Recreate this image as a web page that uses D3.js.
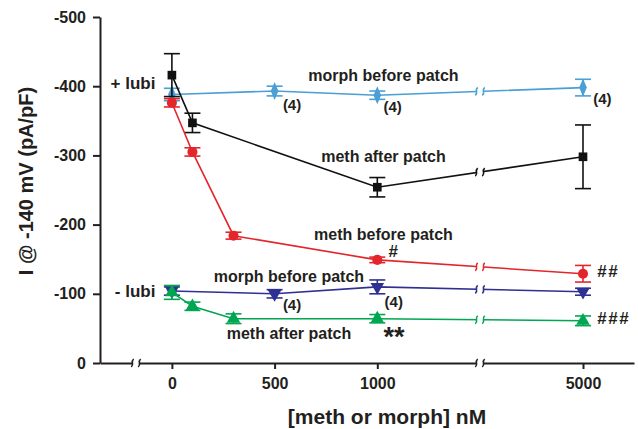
<!DOCTYPE html>
<html>
<head>
<meta charset="utf-8">
<script src="https://cdn.jsdelivr.net/npm/d3@7"></script>
<style>
body { margin: 0; background: #fff; }
text { font-family: "Liberation Sans", Arial, sans-serif; font-weight: bold; fill: #231f20; }
</style>
</head>
<body>
<div class="myChart"></div>
<script>
//Data (x in nM, y in pA/pF)
var morphLubiX = [0, 500, 1000, 5000];
var morphLubiY = [-388, -393, -387, -398];
var morphLubiErr = [9, 7, 6, 12];

var methLubiX = [0, 100, 1000, 5000];
var methLubiY = [-416, -347, -254, -298];
var methLubiErr = [31, 14, 14, 46];

var methX = [0, 100, 300, 1000, 5000];
var methY = [-376, -305, -184, -149, -129];
var methErr = [6, 6, 5, 4, 12];

var morphX = [0, 500, 1000, 5000];
var morphY = [-104, -100, -110, -103];
var morphErr = [6, 6, 10, 5];

var methNoX = [0, 100, 300, 1000, 5000];
var methNoY = [-102, -82, -64, -64, -61];
var methNoErr = [10, 6, 7, 6, 7];

var xTicks = [0, 500, 1000, 5000];
var yTicks = [0, -100, -200, -300, -400, -500];

//Labels placed in data units
var notes = [
    {t: "+ lubi", x: -80, y: -396, a: "end", s: 17},
    {t: "- lubi", x: -80, y: -95, a: "end", s: 17},
    {t: "morph before patch", x: 1030, y: -408, a: "middle", s: 16},
    {t: "(4)", x: 585, y: -366, a: "middle", s: 15},
    {t: "(4)", x: 1075, y: -363, a: "middle", s: 15},
    {t: "(4)", x: 5095, y: -374, a: "middle", s: 15},
    {t: "meth after patch", x: 1030, y: -291, a: "middle", s: 16},
    {t: "meth before patch", x: 1030, y: -178, a: "middle", s: 16},
    {t: "#", x: 1055, y: -153, a: "start", s: 17},
    {t: "##", x: 5070, y: -124, a: "start", s: 17},
    {t: "morph before patch", x: 570, y: -117, a: "middle", s: 16},
    {t: "(4)", x: 585, y: -77, a: "middle", s: 15},
    {t: "(4)", x: 1080, y: -81, a: "middle", s: 15},
    {t: "meth after patch", x: 570, y: -35, a: "middle", s: 16},
    {t: "**", x: 1030, y: -25, a: "start", s: 27},
    {t: "###", x: 5070, y: -56, a: "start", s: 17}
];

var series = [
    {x: morphLubiX, y: morphLubiY, e: morphLubiErr, color: "#4a9fd5", shape: "diamond"},
    {x: methLubiX, y: methLubiY, e: methLubiErr, color: "#111111", shape: "square"},
    {x: methX, y: methY, e: methErr, color: "#e3262b", shape: "circle"},
    {x: morphX, y: morphY, e: morphErr, color: "#2e3192", shape: "down"},
    {x: methNoX, y: methNoY, e: methNoErr, color: "#00a651", shape: "up"}
];

var width = 638;
var height = 429;
var breakLow = -175;
var breakHigh = 1500;

//Broken x scale: linear up to the break, compressed after it
var xScale = d3.scaleLinear()
    .domain([-350, breakHigh, 5000, 5250])
    .range([100, 480, 583, 634]);
var yScale = d3.scaleLinear()
    .domain([0, -500])
    .range([363, 17]);

var svg = d3.select(".myChart").append("svg")
    .attr("width", width)
    .attr("height", height);

//Axes
var xAxis = d3.axisBottom(xScale).tickValues(xTicks).tickSize(6).tickSizeOuter(0).tickPadding(9)
    .tickFormat(function(d) {return String(d);});
var yAxis = d3.axisLeft(yScale).tickValues(yTicks).tickSize(7).tickSizeOuter(0).tickPadding(7)
    .tickFormat(function(d) {return d === 0 ? "0" : "-" + Math.abs(d);});

var gx = svg.append("g")
    .attr("transform", "translate(0," + yScale(0) + ")")
    .call(xAxis);
var gy = svg.append("g")
    .attr("transform", "translate(" + xScale(-350) + ",0)")
    .call(yAxis);
[gx, gy].forEach(function(g) {
    g.selectAll("path, line").attr("stroke", "#231f20").attr("stroke-width", 2);
    g.selectAll("text").style("font-size", "16px").attr("fill", "#231f20");
});

//Break marks (white gap + two squiggles)
function breakMark(cx, cy, color) {
    var g = svg.append("g");
    g.append("rect").attr("x", cx - 3).attr("y", cy - 4).attr("width", 6).attr("height", 8).attr("fill", "#fff");
    [-3.5, 3.5].forEach(function(dx) {
        var x = cx + dx;
        g.append("path")
            .attr("d", "M" + (x + 1.2) + "," + (cy - 4) + " C" + (x - 2.5) + "," + (cy - 1) + " " + (x + 2.5) + "," + (cy + 1) + " " + (x - 1.2) + "," + (cy + 4))
            .attr("fill", "none").attr("stroke", color).attr("stroke-width", 1.6);
    });
}
breakMark(xScale(breakLow), yScale(0), "#231f20");
breakMark(xScale(breakHigh), yScale(0), "#231f20");

var line = d3.line()
    .x(function(d) {return xScale(d[0]);})
    .y(function(d) {return yScale(d[1]);});

var sym = {
    square: d3.symbol().type(d3.symbolSquare).size(75),
    circle: d3.symbol().type(d3.symbolCircle).size(80),
    diamond: d3.symbol().type(d3.symbolDiamond).size(70),
    up: d3.symbol().type(d3.symbolTriangle).size(80),
    down: d3.symbol().type(d3.symbolTriangle).size(80)
};

series.forEach(function(s) {
    var pts = s.x.map(function(x, i) {return [x, s.y[i], s.e[i]];});
    svg.append("path")
        .datum(pts)
        .attr("d", line)
        .attr("fill", "none")
        .attr("stroke", s.color)
        .attr("stroke-width", 1.6);

    //break on the line where it crosses the gap
    var a = pts[pts.length - 2], b = pts[pts.length - 1];
    var t = (xScale(breakHigh) - xScale(a[0])) / (xScale(b[0]) - xScale(a[0]));
    var yb = yScale(a[1]) + t * (yScale(b[1]) - yScale(a[1]));
    breakMark(xScale(breakHigh), yb, s.color);

    var eb = svg.append("g").attr("stroke", s.color).attr("stroke-width", 1.6);
    pts.forEach(function(p) {
        var x = xScale(p[0]), y1 = yScale(p[1] - p[2]), y2 = yScale(p[1] + p[2]);
        eb.append("line").attr("x1", x).attr("x2", x).attr("y1", y1).attr("y2", y2);
        eb.append("line").attr("x1", x - 8).attr("x2", x + 8).attr("y1", y1).attr("y2", y1);
        eb.append("line").attr("x1", x - 8).attr("x2", x + 8).attr("y1", y2).attr("y2", y2);
    });

    svg.append("g").selectAll("path")
        .data(pts)
        .enter()
        .append("path")
        .attr("d", sym[s.shape])
        .attr("fill", s.color)
        .attr("transform", function(d) {
            var tr = "translate(" + xScale(d[0]) + "," + yScale(d[1]) + ")";
            if (s.shape === "down") tr += " rotate(180)";
            if (s.shape === "diamond") tr += " scale(0.85,1.15)";
            return tr;
        });
});

//Annotations
svg.append("g").selectAll("text")
    .data(notes)
    .enter()
    .append("text")
    .attr("x", function(d) {return xScale(d.x);})
    .attr("y", function(d) {return yScale(d.y);})
    .attr("text-anchor", function(d) {return d.a;})
    .style("font-size", function(d) {return d.s + "px";})
    .style("letter-spacing", function(d) {return d.t.charAt(0) === "#" ? "1.5px" : null;})
    .text(function(d) {return d.t;});

//Axis titles
svg.append("text")
    .attr("transform", "translate(33," + 181 + ") rotate(-90)")
    .attr("text-anchor", "middle")
    .style("font-size", "20px")
    .text("I @ -140 mV (pA/pF)");
svg.append("text")
    .attr("x", (xScale(-350) + xScale(5250)) / 2 + 20)
    .attr("y", 424)
    .attr("text-anchor", "middle")
    .style("font-size", "21px")
    .text("[meth or morph] nM");
</script>
</body>
</html>
